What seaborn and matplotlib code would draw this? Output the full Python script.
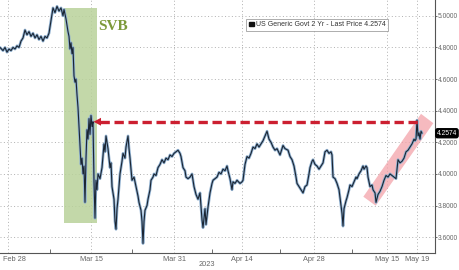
import matplotlib
matplotlib.use("Agg")
import matplotlib.pyplot as plt
import matplotlib.transforms as mtransforms
from matplotlib.patches import Rectangle, Polygon, Patch
import seaborn as sns
import pandas as pd

# ---- data (session position along the compressed time axis, yield %) ----
session = [0, 3, 5, 7, 9, 11, 13, 15, 17, 19, 21, 23, 25, 27, 29, 31, 33, 35, 37, 39,
           41, 43, 45, 47, 49, 50, 51, 53, 55, 57, 59, 61, 63, 64, 66, 68, 69, 70, 71, 72,
           73, 74, 75, 76, 77, 78, 79, 80, 81, 82, 83, 84, 85, 86, 87, 88, 89, 90, 91, 92,
           93, 94, 95, 96, 97, 98, 100, 102, 104, 105, 106, 107, 108, 110, 111, 112, 114, 115, 116, 117,
           118, 120, 122, 123, 125, 126, 128, 129, 130, 132, 134, 136, 138, 139, 141, 142, 143, 144, 145, 147,
           148, 150, 151, 153, 154, 156, 158, 160, 162, 164, 166, 168, 170, 172, 174, 176, 178, 180, 181, 183,
           185, 186, 188, 190, 192, 194, 196, 198, 200, 202, 203, 205, 206, 208, 210, 212, 213, 215, 217, 219,
           221, 223, 225, 227, 228, 230, 232, 233, 235, 237, 240, 242, 243, 245, 247, 249, 251, 253, 255, 257,
           259, 261, 263, 265, 267, 269, 271, 273, 275, 277, 280, 282, 283, 285, 288, 290, 292, 294, 296, 297,
           299, 301, 303, 305, 307, 309, 310, 312, 313, 315, 317, 319, 321, 323, 325, 327, 329, 331, 332, 333,
           335, 337, 339, 340, 341, 342, 343, 344, 346, 347, 349, 350, 352, 354, 356, 357, 359, 361, 363, 364,
           366, 367, 368, 370, 372, 373, 375, 376, 378, 380, 382, 384, 386, 388, 390, 392, 394, 396, 397, 398,
           400, 402, 404, 406, 408, 410, 412, 414, 415, 416, 417, 418, 419, 420, 421, 422]
yield_2y = [4.80, 4.78, 4.80, 4.77, 4.79, 4.78, 4.80, 4.79, 4.81, 4.80, 4.84, 4.86, 4.91, 4.88, 4.90, 4.87, 4.89, 4.86, 4.88, 4.85,
            4.87, 4.84, 4.87, 4.86, 4.89, 4.93, 4.97, 5.05, 5.02, 5.06, 5.03, 5.05, 5.00, 5.04, 4.98, 4.90, 4.87, 4.79, 4.83, 4.76,
            4.80, 4.62, 4.58, 4.60, 4.50, 4.42, 4.30, 4.18, 4.06, 4.10, 4.00, 4.05, 3.82, 4.10, 4.28, 4.22, 4.35, 4.25, 4.37, 4.30,
            4.33, 3.95, 3.72, 3.96, 3.90, 4.00, 3.97, 4.04, 4.19, 4.14, 4.24, 4.20, 4.16, 4.04, 4.07, 3.92, 3.84, 3.70, 3.65, 3.78,
            3.84, 4.00, 4.08, 4.13, 4.10, 4.17, 4.24, 4.16, 4.10, 3.96, 3.98, 3.92, 3.86, 3.82, 3.77, 3.70, 3.56, 3.70, 3.77, 3.80,
            3.84, 3.90, 3.96, 3.98, 4.00, 3.99, 4.04, 4.06, 4.09, 4.07, 4.10, 4.09, 4.12, 4.11, 4.13, 4.14, 4.15, 4.13, 4.11, 4.04,
            4.02, 3.98, 3.97, 3.98, 4.00, 3.92, 3.87, 3.84, 3.88, 3.71, 3.66, 3.78, 3.68, 3.79, 3.88, 3.94, 3.96, 3.97, 3.98, 4.01,
            4.00, 4.03, 4.02, 4.05, 4.02, 3.97, 3.90, 3.95, 3.94, 3.96, 3.94, 3.95, 3.96, 4.06, 4.11, 4.10, 4.13, 4.17, 4.16, 4.19,
            4.17, 4.19, 4.21, 4.24, 4.27, 4.22, 4.20, 4.17, 4.15, 4.16, 4.12, 4.16, 4.18, 4.16, 4.15, 4.11, 4.09, 4.05, 3.98, 3.94,
            3.92, 3.90, 3.88, 3.92, 3.93, 4.00, 4.04, 4.08, 4.09, 4.06, 4.05, 4.03, 4.05, 4.07, 4.14, 4.15, 4.13, 4.14, 4.12, 3.98,
            3.97, 3.94, 3.90, 3.85, 3.80, 3.75, 3.67, 3.78, 3.83, 3.85, 3.90, 3.93, 3.92, 3.95, 3.98, 3.97, 4.00, 4.02, 4.05, 4.03,
            4.05, 4.04, 3.98, 3.92, 3.93, 3.90, 3.88, 3.82, 3.87, 3.89, 3.92, 3.96, 3.99, 3.98, 4.00, 3.99, 3.98, 3.97, 4.03, 4.09,
            4.07, 4.08, 4.10, 4.14, 4.15, 4.17, 4.19, 4.22, 4.21, 4.22, 4.34, 4.24, 4.26, 4.22, 4.27, 4.2574]

tick_labels = ["Feb 28", "Mar 15", "Mar 31", "Apr 14", "Apr 28", "May 15", "May 19"]
tick_pos = [8, 91, 174, 242, 314, 387, 417]
minor_pos = [50, 132, 212, 280, 352]
y_ticks = [3.6, 3.8, 4.0, 4.2, 4.4, 4.6, 4.8, 5.0]
last_price = 4.2574
legend_text = "US Generic Govt 2 Yr - Last Price 4.2574"
svb_label = "SVB"
year_label = "2023"

df = pd.DataFrame({"session": session, "yield": yield_2y})

sns.set_theme(style="white")
plt.rcParams["font.family"] = ["Liberation Sans", "DejaVu Sans"]

fig = plt.figure(figsize=(4.6, 2.7), dpi=100)
ax = fig.add_axes([0.0, 0.063, 0.9457, 0.937])

# SVB shaded period
ax.add_patch(Rectangle((64, 3.69), 33, 1.36, facecolor="#b9d29a", alpha=0.85,
                       edgecolor="none", zorder=1))
ax.text(98, 4.935, svb_label, family=["Liberation Serif", "DejaVu Serif"],
        fontweight="bold", fontsize=11, color="#7d9a3a", va="center", ha="left", zorder=5)

# pink rising band
ax.add_patch(Polygon([(363.3, 3.856), (375.7, 3.799), (433.3, 4.321), (421, 4.380)],
                     closed=True, facecolor="#f3a3aa", alpha=0.75, edgecolor="none", zorder=1))

# series (halo + dark line)
sns.lineplot(data=df, x="session", y="yield", ax=ax, color="#8fb0d0",
             linewidth=2.0, zorder=2, estimator=None, sort=False)
sns.lineplot(data=df, x="session", y="yield", ax=ax, color="#1a2533",
             linewidth=0.8, zorder=3, estimator=None, sort=False)

# red dashed arrow at the pre-SVB level
ax.plot([100, 420], [4.33, 4.33], color="#cc1f30", linewidth=2.4,
        dashes=(2.8, 1.4), zorder=4, solid_capstyle="butt")
ax.add_patch(Polygon([(93.5, 4.33), (101, 4.355), (101, 4.305)], closed=True,
                     facecolor="#cc1f30", edgecolor="none", zorder=4))

ax.set_xlim(0, 435)
ax.set_ylim(3.50, 5.10)
ax.set_xlabel("")
ax.set_ylabel("")

# grid
ax.set_xticks(tick_pos)
ax.set_xticklabels(tick_labels)
ax.set_xticks(minor_pos, minor=True)
ax.set_yticks(y_ticks)
ax.set_yticklabels([f"{v:.4f}" for v in y_ticks])
ax.grid(True, which="major", color="#b0b0b0", linestyle=(0, (1, 2.5)), linewidth=0.7)

ax.yaxis.tick_right()
for s in ["top", "left"]:
    ax.spines[s].set_visible(False)
for s in ["right", "bottom"]:
    ax.spines[s].set_color("#555555")
    ax.spines[s].set_linewidth(0.8)
ax.tick_params(axis="y", which="major", right=True, left=False, direction="out",
               length=1.5, width=0.6, color="#555555", labelsize=4.8,
               labelcolor="#666666", pad=0.6)
ax.tick_params(axis="x", which="major", bottom=True, direction="in", length=0,
               labelsize=5.3, labelcolor="#666666", pad=2)
ax.tick_params(axis="x", which="minor", bottom=True, direction="in", length=3,
               width=0.6, color="#555555")
# first date label sits right of its gridline so it stays inside the figure
first = ax.get_xticklabels()[0]
first.set_horizontalalignment("left")
first.set_x(first.get_position()[0])
first.set_transform(first.get_transform() + mtransforms.ScaledTranslation(-5 / 100, 0, fig.dpi_scale_trans))

# last price tag
trans = mtransforms.blended_transform_factory(ax.transAxes, ax.transData)
ax.text(1.004, last_price, f"{last_price:.4f}", transform=trans, fontsize=4.8,
        color="white", va="center", ha="left", zorder=6, clip_on=False,
        bbox=dict(boxstyle="round,pad=0.15,rounding_size=0.3", facecolor="black",
                  edgecolor="black"))

# legend
handle = Patch(facecolor="#111111", edgecolor="#111111")
leg = ax.legend([handle], [legend_text], loc="upper left",
                bbox_to_anchor=(0.566, 0.925), fontsize=5, frameon=True,
                fancybox=False, handlelength=0.7, handleheight=0.7,
                handletextpad=0.4, borderpad=0.35, borderaxespad=0)
leg.get_frame().set_edgecolor("#888888")
leg.get_frame().set_linewidth(0.6)
leg.get_frame().set_facecolor("white")
leg.get_texts()[0].set_color("#333333")

fig.text(207 / 460, 1 - 264 / 270, year_label, fontsize=5.3, color="#666666",
         ha="center", va="center")

fig.savefig("out.png", dpi=100)
